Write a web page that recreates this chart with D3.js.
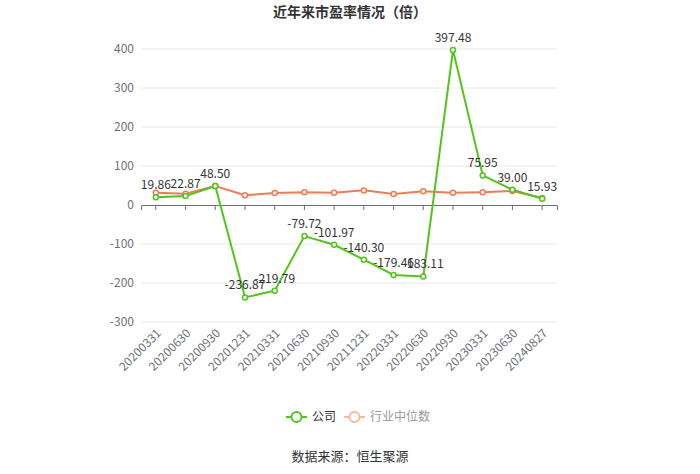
<!DOCTYPE html>
<html><head><meta charset="utf-8">
<script src="https://cdn.jsdelivr.net/npm/d3@7/dist/d3.min.js"></script>
<style>body{margin:0;background:#fff;font-family:"Noto Sans CJK SC","Noto Sans",sans-serif}</style>
</head><body><svg id="c" width="700" height="474"></svg>
<script>
const categories=["20200331","20200630","20200930","20201231","20210331","20210630","20210930","20211231","20220331","20220630","20220930","20230331","20230630","20240827"];
const company=[19.86,22.87,48.50,-236.87,-219.79,-79.72,-101.97,-140.30,-179.46,-183.11,397.48,75.95,39.00,15.93];
const industry=[31.5,29,48.5,25,31,33,31.5,37.5,28,35,31.5,33,36,18];
const yTicks=[400,300,200,100,0,-100,-200,-300];
(function(){
const svg=d3.select("#c");
const pl=141,pr=557,pt=49,pb=322;
const x=d3.scaleBand().domain(categories).range([pl,pr]);
const y=d3.scaleLinear().domain([-300,400]).range([pb,pt]);
const cx=d=>x(d)+x.bandwidth()/2;
const font='"Noto Sans CJK SC","Noto Sans",sans-serif';
svg.append("text").attr("x",350).attr("y",17).attr("text-anchor","middle").attr("font-size",14).attr("font-weight","bold").attr("fill","#333").attr("font-family",font).text("近年来市盈率情况（倍）");
svg.append("g").selectAll("line").data(yTicks.filter(t=>t!==0)).join("line").attr("x1",pl).attr("x2",pr).attr("y1",d=>y(d)).attr("y2",d=>y(d)).attr("stroke","#e6e6e6");
svg.append("g").selectAll("text").data(yTicks).join("text").attr("x",134).attr("y",d=>y(d)).attr("dy","0.35em").attr("text-anchor","end").attr("font-size",12).attr("fill","#6e7079").attr("font-family",font).text(d=>d);
const xa=svg.append("g").attr("transform",`translate(0,${y(0)})`).call(d3.axisBottom(x).tickSize(5).tickFormat(""));
xa.select(".domain").attr("stroke","#6e7079");
xa.selectAll(".tick line").attr("stroke","#6e7079");
svg.append("g").selectAll("text").data(categories).join("text").attr("transform",d=>`translate(${cx(d)+3},${pb+9}) rotate(-45)`).attr("text-anchor","end").attr("dy","0.35em").attr("font-size",12).attr("fill","#6e7079").attr("font-family",font).text(d=>d);
const line=d3.line().x((d,i)=>cx(categories[i])).y(d=>y(d));
function series(data,color){
  svg.append("path").datum(data).attr("d",line).attr("fill","none").attr("stroke",color).attr("stroke-width",2);
  svg.append("g").selectAll("circle").data(data).join("circle").attr("cx",(d,i)=>cx(categories[i])).attr("cy",d=>y(d)).attr("r",2.5).attr("fill","#fff").attr("stroke",color).attr("stroke-width",1.5);
}
series(industry,"#ef7c52");
series(company,"#52c41a");
svg.append("g").selectAll("text").data(company).join("text").attr("x",(d,i)=>cx(categories[i])).attr("y",d=>y(d)-8).attr("text-anchor","middle").attr("font-size",12).attr("fill","#333").attr("font-family",font).text(d=>d.toFixed(2));
function legend(x0,color,label,tc){
  const g=svg.append("g");
  g.append("line").attr("x1",x0).attr("x2",x0+21).attr("y1",417).attr("y2",417).attr("stroke",color).attr("stroke-width",2);
  g.append("circle").attr("cx",x0+10.5).attr("cy",417).attr("r",5).attr("fill","#fff").attr("stroke",color).attr("stroke-width",2);
  g.append("text").attr("x",x0+26).attr("y",417).attr("dy","0.35em").attr("font-size",12).attr("fill",tc).attr("font-family",font).text(label);
}
legend(286,"#52c41a","公司","#333");
legend(344,"#f5b8a1","行业中位数","#999");
svg.append("text").attr("x",350).attr("y",461).attr("text-anchor","middle").attr("font-size",13).attr("fill","#333").attr("font-family",font).text("数据来源：恒生聚源");
})();
</script></body></html>
